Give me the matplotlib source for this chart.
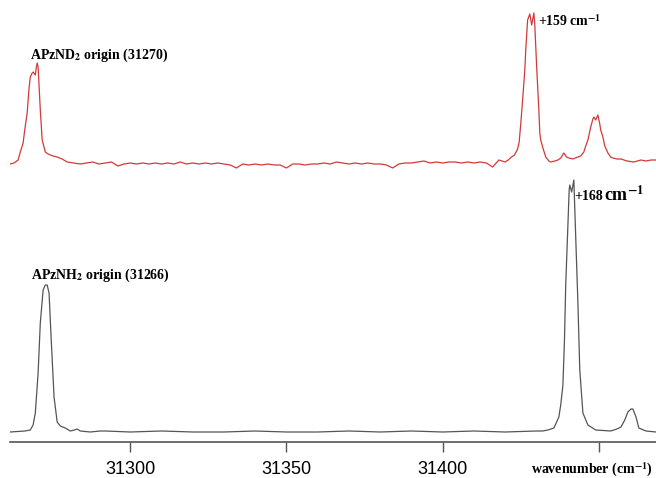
import numpy as np
import matplotlib
matplotlib.use("Agg")
import matplotlib.pyplot as plt

# APzND2 trace (red): wavenumber (cm-1) and intensity above its own baseline
ND2_WN = [
    31261.5, 31262.8, 31264.1, 31264.7, 31265.7, 31266.3, 31267.0, 31267.6,
    31268.0, 31268.6, 31268.9, 31269.6, 31269.9, 31270.2, 31270.5, 31271.2,
    31271.8, 31272.8, 31273.7, 31274.4, 31275.3, 31276.6, 31278.2, 31279.8,
    31282, 31284, 31286, 31288, 31290, 31292, 31294, 31296, 31298, 31300,
    31302, 31304, 31306, 31308, 31310, 31312, 31314, 31316, 31318, 31320,
    31322, 31324, 31326, 31328, 31330, 31332, 31334, 31336, 31338, 31340,
    31342, 31344, 31346, 31348, 31350, 31352, 31354, 31356, 31358, 31360,
    31362, 31364, 31366, 31368, 31370, 31372, 31374, 31376, 31378, 31380,
    31382, 31384, 31386, 31388, 31390, 31392, 31394, 31396, 31398, 31400,
    31402, 31404, 31406, 31408, 31410, 31412, 31414, 31416, 31418, 31420,
    31421, 31422, 31423, 31424, 31424.5, 31425, 31425.6, 31426.3, 31426.6,
    31427.2, 31427.9, 31428.5, 31429.2, 31429.5, 31430.1, 31430.8, 31431.1,
    31431.4, 31432.1, 31433.0, 31434.0, 31434.6, 31435.9, 31436.9, 31437.8,
    31438.8, 31439.7, 31440.4, 31441.7, 31443.3, 31444.2, 31445.2, 31445.8,
    31446.5, 31447.4, 31448.1, 31448.4, 31449.0, 31449.7, 31450.3, 31450.6,
    31451.3, 31451.9, 31452.9, 31453.8, 31454.5, 31455.8, 31457.1, 31459.0,
    31461.2, 31463.5, 31465.1, 31466.7, 31468.3,
]
ND2_INT = [
    0, 1, 4, 11, 21, 36, 51, 76,
    87, 91, 92, 89, 96, 101, 97, 54,
    24, 12, 10, 9, 8, 7, 5, 2,
    1, 0, 1, 2, 0, 1, 2, -2, 0, 1,
    0, 1, 0, 1, 0, 1, 0, 2, 0, 1,
    0, 1, 0, 1, 0, -1, -4, 0, -1, 0,
    -1, 0, -1, -1, -4, 0, 0, -1, 0, 0,
    1, 0, 2, 1, 0, 1, 0, 1, 0, 0,
    -1, -4, 0, 1, 1, 2, 3, 1, 2, 1,
    2, 2, 1, 2, 1, 2, 1, -3, 4, 2,
    4, 7, 9, 15, 22, 40, 64, 94, 114,
    144, 150, 139, 151, 139, 97, 54, 31,
    24, 16, 7, 3, 2, 3, 4, 6,
    11, 7, 6, 5, 7, 8, 12, 18,
    24, 37, 45, 47, 44, 49, 40, 34,
    27, 18, 11, 7, 6, 5, 5, 3,
    2, 4, 3, 4, 4,
]

# APzNH2 trace (black)
NH2_WN = [
    31261.5, 31266.3, 31268.0, 31268.9, 31269.6, 31270.5, 31271.2, 31272.1,
    31272.8, 31273.4, 31274.0, 31274.7, 31275.6, 31276.6, 31277.6, 31279.2,
    31280.8, 31282.1, 31283.0, 31284.0, 31287.2, 31290.4, 31292.0, 31300,
    31310, 31320, 31330, 31340, 31350, 31360, 31370, 31380, 31390, 31400,
    31410, 31420, 31430, 31432, 31433.7, 31435.6, 31436.5, 31437.2, 31437.8,
    31438.5, 31439.0, 31439.4, 31440.1, 31440.5, 31440.7, 31441.3, 31442.0,
    31442.6, 31443.3, 31443.9, 31444.9, 31446.5, 31449.0, 31453.8, 31455.8,
    31457.1, 31458.3, 31459.3, 31460.3, 31460.9, 31461.9, 31462.8, 31465.1,
    31468.3,
]
NH2_INT = [
    0, 1, 2, 7, 19, 59, 109, 142,
    147, 147, 139, 92, 35, 10, 6, 4,
    1, 2, 3, 1, 0, 1, 1, 0,
    1, 0, 0, 1, 0, 0, 1, 0, 1, 0,
    1, 0, 1, 1, 2, 4, 10, 15, 27,
    47, 92, 147, 207, 242, 247, 240, 252,
    195, 129, 62, 19, 7, 2, 1, 3,
    5, 12, 20, 23, 23, 15, 4, 1,
    0,
]

XTICKS = [31300, 31350, 31400, 31450]
XTICK_LABELS = ["31300", "31350", "31400", ""]

plt.rcParams["mathtext.fontset"] = "stix"

fig = plt.figure(figsize=(6.56, 4.78), dpi=100)
ax = fig.add_axes([10 / 656, 36 / 478, 646 / 656, 442 / 478])
ax.set_xlim(31261.5, 31468.3)
ax.set_ylim(0, 442)

# vertical offsets of the two stacked traces
ND2_OFFSET = 278
NH2_OFFSET = 10

ax.plot(ND2_WN, np.array(ND2_INT) + ND2_OFFSET, color="#d23a3a", lw=0.9)
ax.plot(NH2_WN, np.array(NH2_INT) + NH2_OFFSET, color="#555555", lw=0.9)

for side in ("top", "right", "left"):
    ax.spines[side].set_visible(False)
ax.spines["bottom"].set_color("#555555")
ax.spines["bottom"].set_linewidth(1.2)
ax.set_yticks([])
ax.set_xticks(XTICKS)
ax.set_xticklabels(XTICK_LABELS, family=["Liberation Sans Narrow", "Liberation Sans"],
                   fontsize=13)
ax.tick_params(axis="x", direction="out", length=7, width=1, color="#555555", pad=7)

serif = dict(family="Liberation Serif", weight="bold", color="black")
ax.text(31268.0, 387, r"APzND$_\mathbf{2}$ origin (31270)", fontsize=10,
        va="center", ha="left", **serif)
ax.text(31268.2, 167, r"APzNH$_\mathbf{2}$ origin (31266)", fontsize=10,
        va="center", ha="left", **serif)
ax.text(31430.5, 421, r"+159 cm$^{\mathbf{-1}}$", fontsize=10,
        va="center", ha="left", **serif)
ax.text(31442.0, 246, "+168", fontsize=10, va="center", ha="left", **serif)
ax.text(31451.8, 247, r"cm$^{\mathbf{-1}}$", fontsize=13, va="center", ha="left", **serif)

fig.text(653 / 656, 1 - 470 / 478, r"wavenumber (cm$^{\mathbf{-1}}$)", fontsize=10,
         va="center", ha="right", **serif)

fig.savefig("out.png", dpi=100, facecolor="white")
